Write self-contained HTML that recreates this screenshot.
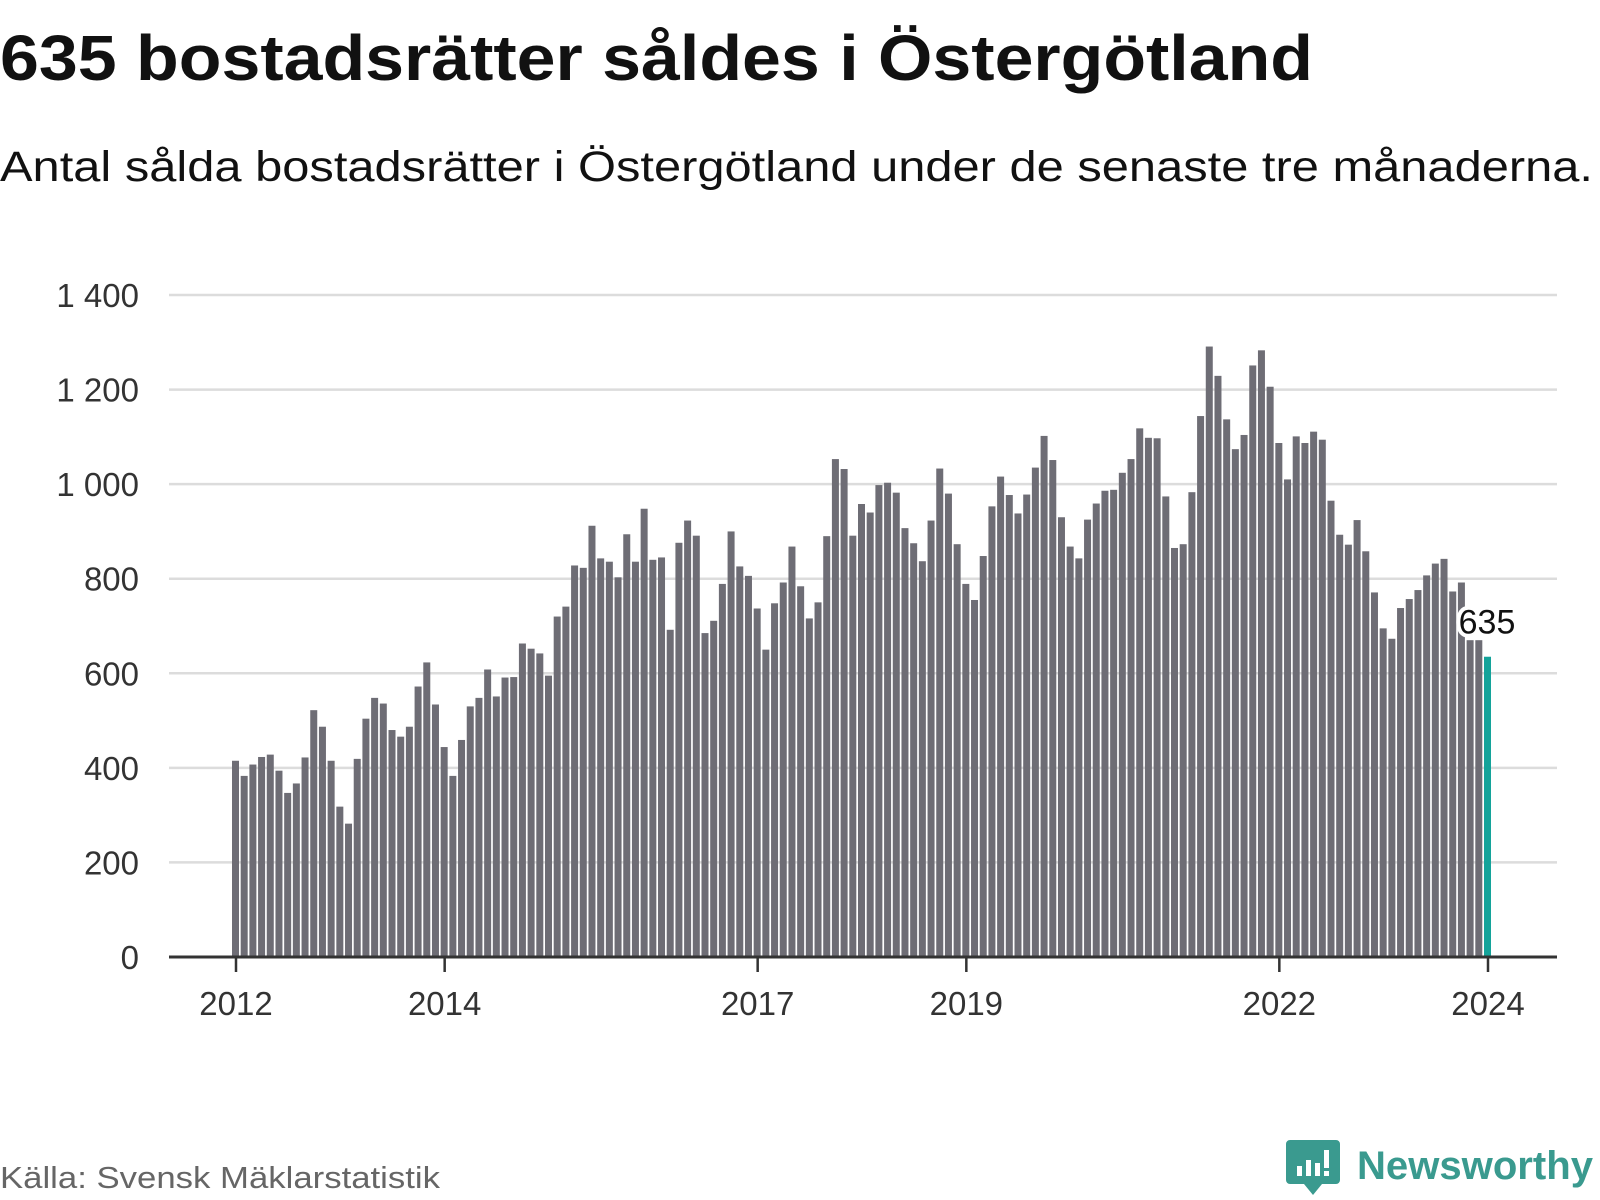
<!DOCTYPE html>
<html><head><meta charset="utf-8"><style>
html,body{margin:0;padding:0;background:#fff;}
svg{display:block;font-family:"Liberation Sans","DejaVu Sans",sans-serif;}
</style></head><body>
<svg id="chart" width="1600" height="1200" viewBox="0 0 1600 1200">
<text x="0" y="80" font-size="64" font-weight="bold" fill="#111" textLength="1313" lengthAdjust="spacingAndGlyphs">635 bostadsrätter såldes i Östergötland</text>
<text x="0" y="181" font-size="43" fill="#111" textLength="1593" lengthAdjust="spacingAndGlyphs">Antal sålda bostadsrätter i Östergötland under de senaste tre månaderna.</text>
<g id="grid"></g><g id="bars"></g><g id="axes"></g>
<text x="0" y="1188" font-size="31" fill="#666" textLength="440" lengthAdjust="spacingAndGlyphs">Källa: Svensk Mäklarstatistik</text>
<g>
<path d="M1290 1140 h46 a4 4 0 0 1 4 4 v36 a4 4 0 0 1 -4 4 h-14 l-9 11 l-9 -11 h-14 a4 4 0 0 1 -4 -4 v-36 a4 4 0 0 1 4 -4z" fill="#3a9a8f"/>
<rect x="1297" y="1166" width="5" height="10" fill="#fff"/><rect x="1306" y="1160" width="5" height="16" fill="#fff"/><rect x="1315" y="1163" width="5" height="13" fill="#fff"/><rect x="1324" y="1150" width="5" height="18" fill="#fff"/><rect x="1324" y="1171" width="5" height="5" fill="#fff"/>
<text x="1357" y="1179" font-size="40" font-weight="bold" fill="#3a9a8f" textLength="236" lengthAdjust="spacingAndGlyphs">Newsworthy</text>
</g>
</svg>
<script>
const values = [415,383,407,423,428,394,347,367,422,522,487,415,318,282,419,504,548,536,480,466,487,572,623,534,444,383,459,530,548,608,551,591,592,663,652,642,595,720,741,828,823,912,843,836,803,894,836,948,
840,845,692,876,923,891,685,711,789,900,826,806,737,650,748,792,868,784,716,750,
890,1053,1032,891,958,940,998,1003,982,907,875,837,923,1033,980,873,789,755,848,953,
1016,977,938,978,1035,1102,1051,930,868,843,925,959,986,988,1024,1053,1118,1098,1097,974,
865,873,983,1144,1291,1229,1137,1074,1104,1251,1283,1206,1087,1010,1101,1087,1111,1094,965,893,
872,924,858,771,695,673,738,757,776,807,832,842,773,792,670,670,635];
const yTicks = [0,200,400,600,800,1000,1200,1400];
const yTickLabels = ["0","200","400","600","800","1 000","1 200","1 400"];
const xTickMonths = [0,24,60,84,120,144];
const xTickLabels = ["2012","2014","2017","2019","2022","2024"];
const highlightLabel = "635";

const NS="http://www.w3.org/2000/svg";
const x0=236, pitch=(1488-236)/144;
function xScale(i){return x0+i*pitch;}
const yZero=957, yTop=295;
function yScale(v){return yZero-(v/1400)*(yZero-yTop);}
function mk(tag,attrs,parent){const e=document.createElementNS(NS,tag);for(const k in attrs)e.setAttribute(k,attrs[k]);parent.appendChild(e);return e;}
const grid=document.getElementById('grid'),bars=document.getElementById('bars'),axes=document.getElementById('axes');
yTicks.forEach((t,i)=>{
  const y=yScale(t);
  if(t>0){const l=mk('line',{x1:169,x2:1557,y1:y,y2:y,stroke:'#dcdcdc','stroke-width':2.5},grid);
  
  }
  const tx=mk('text',{x:139,y:y+12,'font-size':33,fill:'#333','text-anchor':'end'},grid);
  tx.textContent=yTickLabels[i];
  
  
});
values.forEach((v,i)=>{
  const last=i===values.length-1;
  const r=mk('rect',{x:xScale(i)-4,y:yScale(v),width:7,height:yZero-yScale(v),fill:last?'#14a39a':'#6e6d75'},bars);
  
  
});
const ln=mk('line',{x1:169,x2:1557,y1:yZero,y2:yZero,stroke:'#333','stroke-width':3},axes);


xTickMonths.forEach((m,i)=>{
  const x=xScale(m);
  const t=mk('line',{x1:x,x2:x,y1:yZero,y2:yZero+15,stroke:'#333','stroke-width':2.5},axes);
  
  
  const tx=mk('text',{x:x,y:1015,'font-size':33,fill:'#333','text-anchor':'middle'},axes);
  tx.textContent=xTickLabels[i];
  
  
});
const li=values.length-1;
const lab=mk('text',{x:xScale(li)-1,y:yScale(values[li])-23,'font-size':34,fill:'#111','text-anchor':'middle',stroke:'#fff','stroke-width':8,'paint-order':'stroke','stroke-linejoin':'round'},axes);
lab.textContent=highlightLabel;


</script>
</body></html>
